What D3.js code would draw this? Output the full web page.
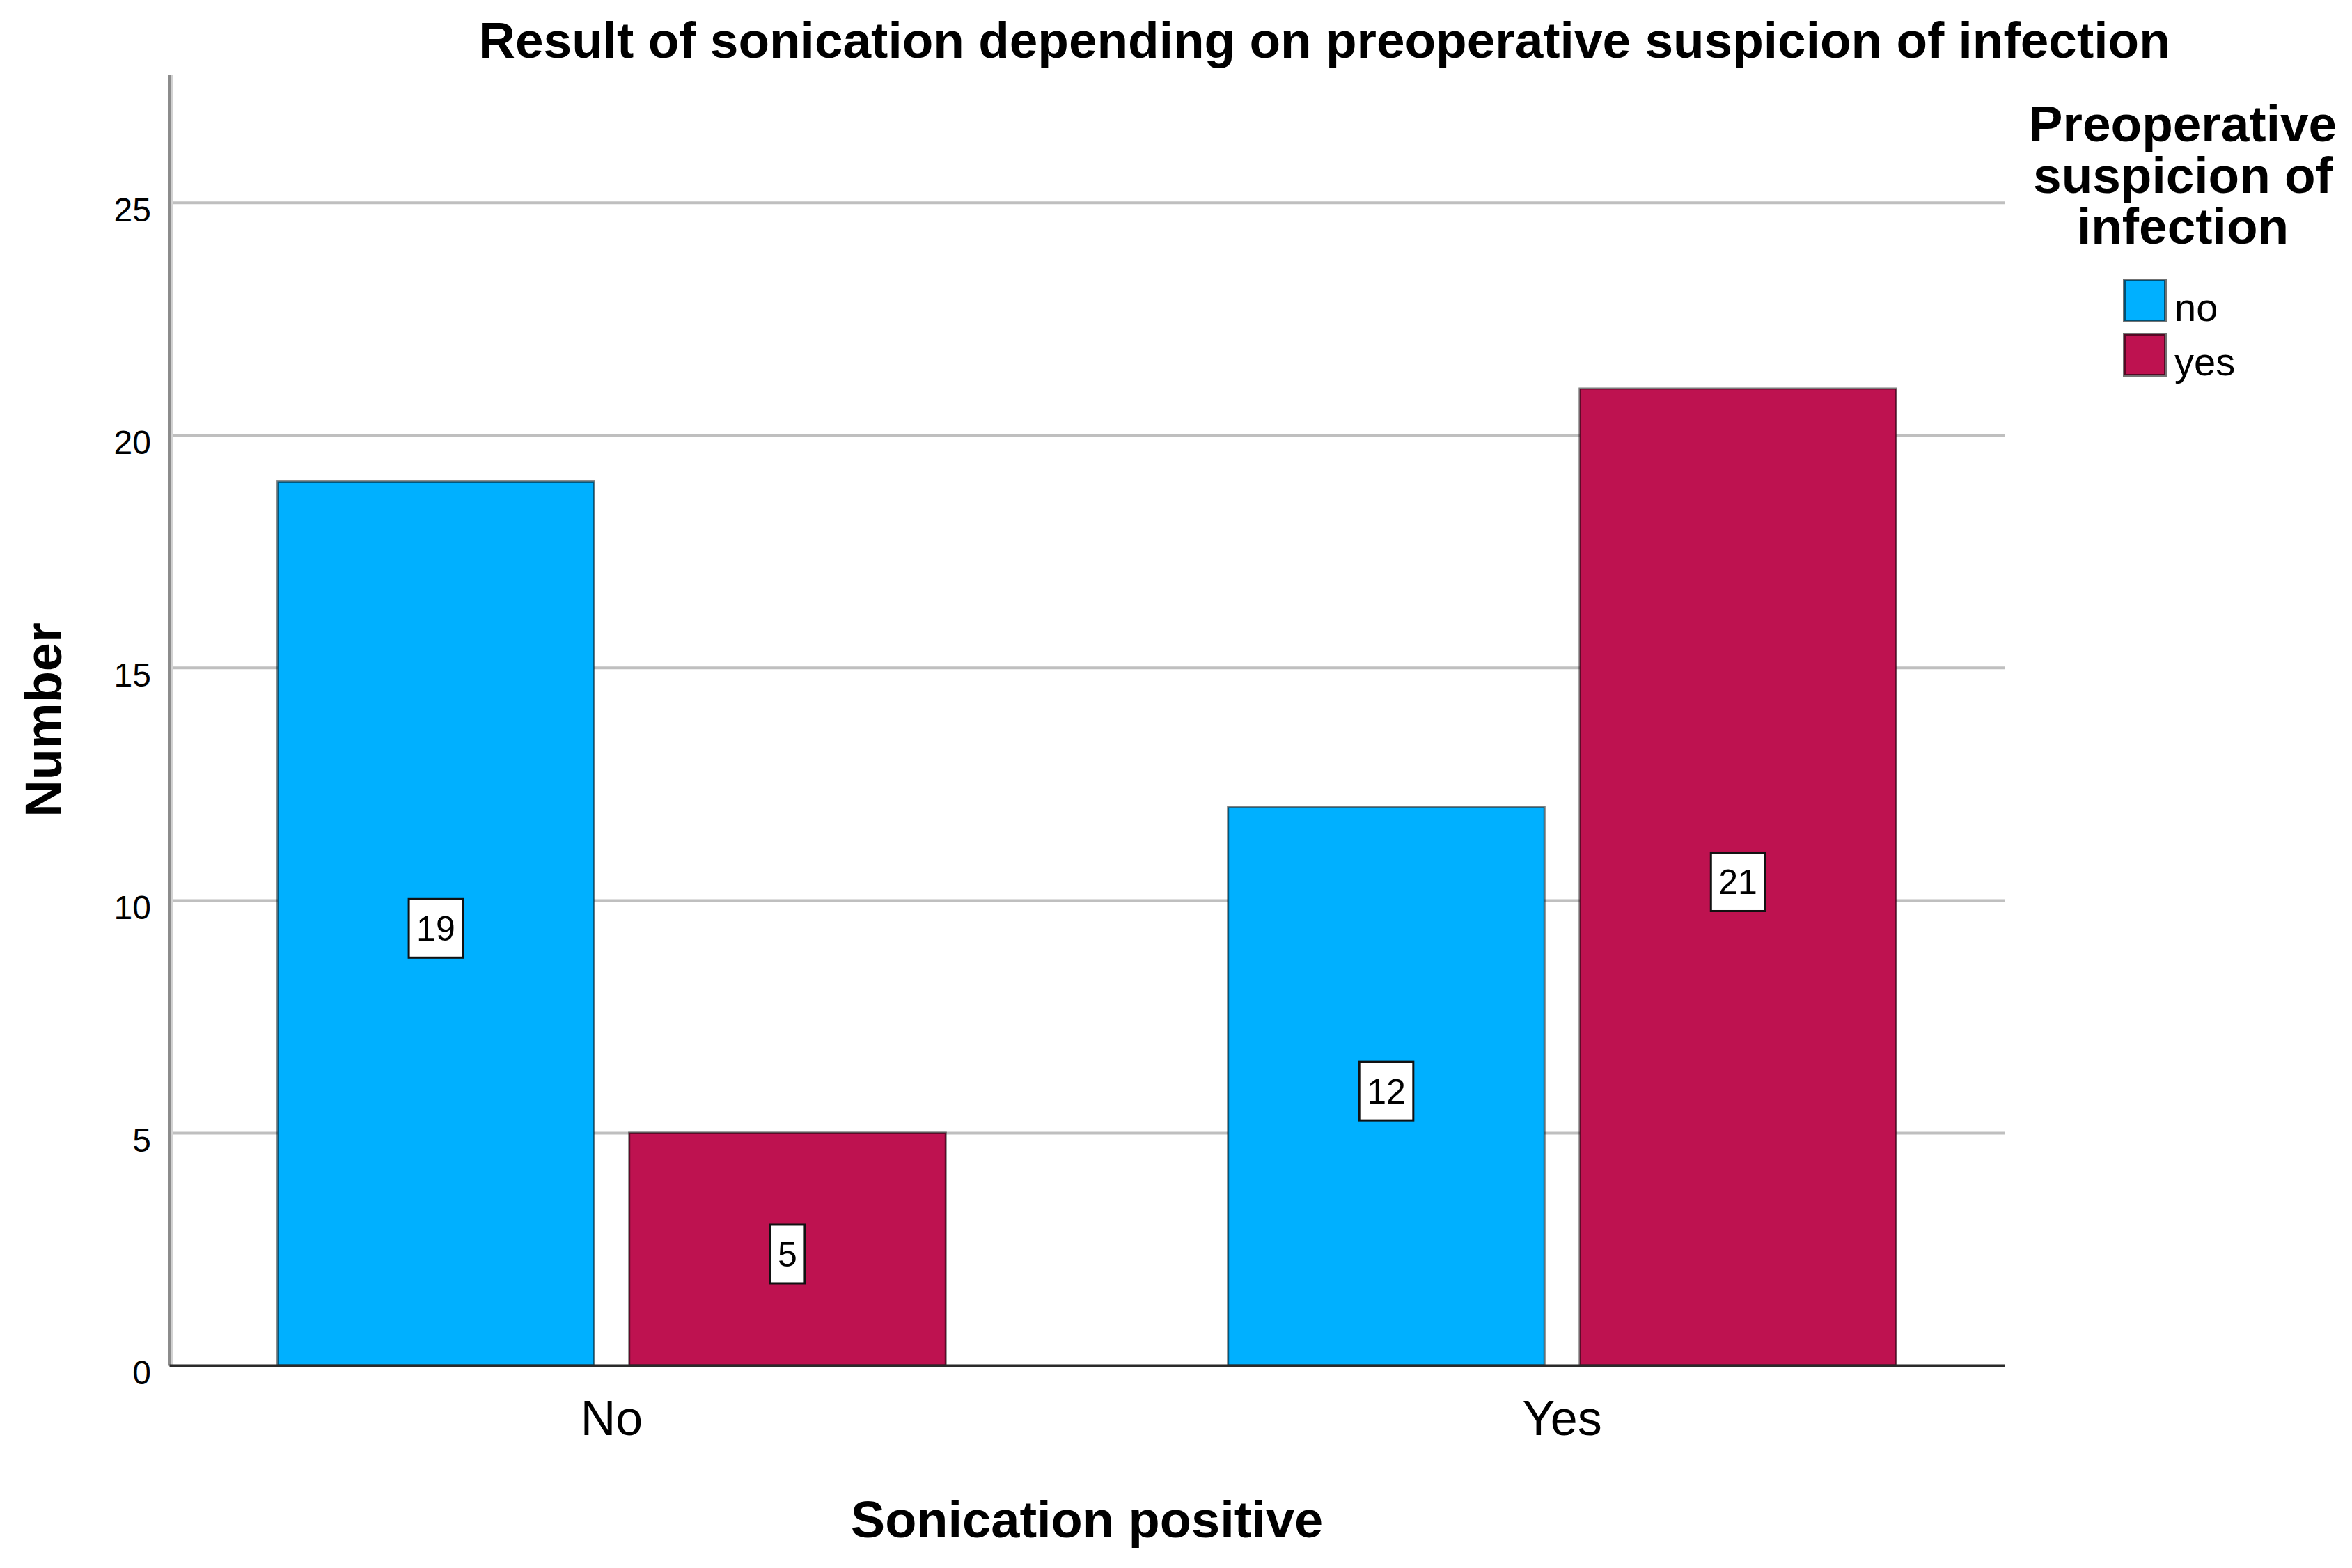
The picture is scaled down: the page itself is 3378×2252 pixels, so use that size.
<!DOCTYPE html>
<html>
<head>
<meta charset="utf-8">
<script src="https://cdn.jsdelivr.net/npm/d3@7"></script>
<style>
  body { margin: 0; background: #fff; }
  svg { display: block; font-family: "Liberation Sans", Arial, sans-serif; }
</style>
</head>
<body>
<div id="chart"></div>
<script>
// data

const categories = ["No", "Yes"];          // sonication positive
const groups = ["no", "yes"];              // preoperative suspicion of infection
const countsNo = [19, 12];
const countsYes = [5, 21];
const yTicks = [0, 5, 10, 15, 20, 25];

const titleText = "Result of sonication depending on preoperative suspicion of infection";
const xTitle = "Sonication positive";
const yTitle = "Number";
const legendTitle = ["Preoperative", "suspicion of", "infection"];

// constants

const width = 3378;
const height = 2252;
const margin = {top: 107, bottom: 291, left: 243, right: 499};

const colors = {no: "#00B0FF", yes: "#BE1250"};

const rows = categories.map((c, i) => ({
  category: c,
  values: [
    {group: "no", value: countsNo[i]},
    {group: "yes", value: countsYes[i]}
  ]
}));

const svg = d3.select("#chart")
  .append("svg")
  .attr("width", width)
  .attr("height", height);

svg.append("rect")
  .attr("width", width)
  .attr("height", height)
  .attr("fill", "#fff");

// scales

const xScale = d3.scaleBand()
  .domain(categories)
  .range([margin.left, width - margin.right])
  .paddingInner(0.297)
  .paddingOuter(0.114);

const xSub = d3.scaleBand()
  .domain(groups)
  .range([0, xScale.bandwidth()])
  .paddingInner(0.1);

const yScale = d3.scaleLinear()
  .domain([0, 27.75])
  .range([height - margin.bottom, margin.top]);

// gridlines

svg.append("g")
  .attr("class", "grid")
  .attr("transform", `translate(${margin.left}, 0)`)
  .call(d3.axisLeft(yScale)
    .tickValues(yTicks.filter(d => d > 0))
    .tickSize(-(width - margin.left - margin.right))
    .tickFormat(""))
  .call(g => g.select(".domain").remove())
  .call(g => g.selectAll("line")
    .attr("stroke", "#bfbfbf")
    .attr("stroke-width", 4));

// bars

const barGroups = svg.selectAll(".bar-group")
  .data(rows)
  .join("g")
  .attr("class", "bar-group")
  .attr("transform", d => `translate(${xScale(d.category)}, 0)`);

barGroups.selectAll("rect")
  .data(d => d.values)
  .join("rect")
  .attr("x", d => xSub(d.group))
  .attr("y", d => yScale(d.value))
  .attr("width", xSub.bandwidth())
  .attr("height", d => yScale(0) - yScale(d.value))
  .attr("fill", d => colors[d.group])
  .attr("stroke", "rgba(0,0,0,0.5)")
  .attr("stroke-width", 3);

// value labels in white boxes

const labels = barGroups.selectAll(".label")
  .data(d => d.values)
  .join("g")
  .attr("class", "label")
  .attr("transform", d => `translate(${xSub(d.group) + xSub.bandwidth() / 2}, ${yScale(d.value / 2) + 7})`);

labels.append("rect")
  .attr("fill", "#fff")
  .attr("stroke", "#111")
  .attr("stroke-width", 3);

labels.append("text")
  .attr("text-anchor", "middle")
  .attr("y", 18)
  .attr("font-size", 50)
  .attr("fill", "#000")
  .text(d => d.value);

labels.each(function () {
  const g = d3.select(this);
  const w = g.select("text").node().getComputedTextLength() + 22;
  g.select("rect")
    .attr("x", -w / 2)
    .attr("y", -42)
    .attr("width", w)
    .attr("height", 84);
});

// axes

svg.append("g")
  .attr("class", "yAxis")
  .attr("transform", `translate(${margin.left}, 0)`)
  .call(d3.axisLeft(yScale)
    .tickValues(yTicks)
    .tickSize(0)
    .tickSizeOuter(0)
    .tickPadding(26))
  .call(g => g.select(".domain")
    .attr("stroke", "#8c8c8c")
    .attr("stroke-width", 4))
  .call(g => g.selectAll("text")
    .attr("font-family", "Liberation Sans, Arial, sans-serif")
    .attr("font-size", 48)
    .attr("fill", "#000")
    .attr("dy", "0.55em"));

// light second edge of the y axis line
svg.append("line")
  .attr("x1", margin.left + 4)
  .attr("x2", margin.left + 4)
  .attr("y1", yScale.range()[1])
  .attr("y2", yScale.range()[0])
  .attr("stroke", "#d2d2d2")
  .attr("stroke-width", 4);

svg.append("g")
  .attr("class", "xAxis")
  .attr("transform", `translate(0, ${yScale(0)})`)
  .call(d3.axisBottom(xScale)
    .tickSize(0)
    .tickSizeOuter(0)
    .tickPadding(50))
  .call(g => g.select(".domain")
    .attr("stroke", "#2a2a2a")
    .attr("stroke-width", 4))
  .call(g => g.selectAll("text")
    .attr("font-family", "Liberation Sans, Arial, sans-serif")
    .attr("font-size", 70)
    .attr("fill", "#000"));

// titles

svg.append("text")
  .attr("x", 1902)
  .attr("y", 83)
  .attr("text-anchor", "middle")
  .attr("font-size", 73)
  .attr("font-weight", "bold")
  .text(titleText);

svg.append("text")
  .attr("x", (xScale.range()[0] + xScale.range()[1]) / 2)
  .attr("y", 2208)
  .attr("text-anchor", "middle")
  .attr("font-size", 74)
  .attr("font-weight", "bold")
  .text(xTitle);

svg.append("text")
  .attr("transform", `translate(88, ${(yScale.range()[0] + yScale.range()[1]) / 2}) rotate(-90)`)
  .attr("text-anchor", "middle")
  .attr("font-size", 74)
  .attr("font-weight", "bold")
  .text(yTitle);

// legend

const legend = svg.append("g")
  .attr("class", "legend");

// legend title as one text block with tight lines
legend.append("text")
  .attr("class", "legend-title")
  .attr("text-anchor", "middle")
  .attr("font-size", 73)
  .attr("font-weight", "bold")
  .selectAll("tspan")
  .data(legendTitle)
  .join("tspan")
  .attr("x", 3135)
  .attr("y", (d, i) => 203 + i * 73.5)
  .text(d => d);

const legendItems = legend.selectAll(".legend-item")
  .data(groups)
  .join("g")
  .attr("class", "legend-item")
  .attr("transform", (d, i) => `translate(3051, ${402 + i * 78})`);

legendItems.append("rect")
  .attr("width", 59)
  .attr("height", 59)
  .attr("fill", d => colors[d])
  .attr("stroke", "rgba(0,0,0,0.55)")
  .attr("stroke-width", 4);

legendItems.append("text")
  .attr("x", 72)
  .attr("y", 59)
  .attr("font-size", 56)
  .attr("fill", "#000")
  .text(d => d);
</script>
</body>
</html>
